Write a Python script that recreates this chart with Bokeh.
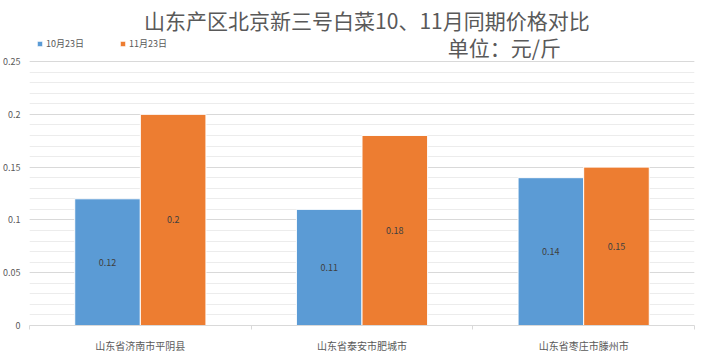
from bokeh.plotting import figure
from bokeh.models import ColumnDataSource, FixedTicker, Legend, LegendItem, Label
from bokeh.embed import file_html
from bokeh.resources import INLINE
from bokeh.core.properties import value

# ---- data ----
categories = ["山东省济南市平阴县", "山东省泰安市肥城市", "山东省枣庄市滕州市"]
series_names = ["10月23日", "11月23日"]
oct_values = [0.12, 0.11, 0.14]
nov_values = [0.2, 0.18, 0.15]
y_ticks = [0, 0.05, 0.1, 0.15, 0.2, 0.25]
y_tick_labels = ["0", "0.05", "0.1", "0.15", "0.2", "0.25"]
title_text = "山东产区北京新三号白菜10、11月同期价格对比"
unit_text = "单位：元/斤"

BLUE = "#5b9bd5"
ORANGE = "#ed7d31"
GREY = "#595959"
FONT = "Noto Sans CJK SC"

n = len(categories)
centers = [i + 0.5 for i in range(n)]
off = 0.148
bw = 0.296
y_top = 0.3078  # headroom above the axis maximum for title / legend

src_oct = ColumnDataSource(dict(
    x=[c - off for c in centers], top=oct_values,
    ymid=[v / 2 for v in oct_values], lab=[f"{v:g}" for v in oct_values]))
src_nov = ColumnDataSource(dict(
    x=[c + off for c in centers], top=nov_values,
    ymid=[v / 2 for v in nov_values], lab=[f"{v:g}" for v in nov_values]))

p = figure(width=704, height=355, output_backend="svg", toolbar_location=None,
           x_range=(0, n), y_range=(0, y_top),
           min_border_left=19, min_border_right=10, min_border_top=0, min_border_bottom=27)
p.outline_line_color = None
p.background_fill_color = "white"
p.border_fill_color = "white"

r1 = p.vbar(x="x", top="top", width=bw, source=src_oct, fill_color=BLUE, line_color="white", line_width=1)
r2 = p.vbar(x="x", top="top", width=bw, source=src_nov, fill_color=ORANGE, line_color="white", line_width=1)

for src in (src_oct, src_nov):
    p.text(x="x", y="ymid", text="lab", source=src, text_align="center", text_baseline="middle",
           text_font=value(FONT), text_font_size="9px", text_color="#404040")

# axes
p.yaxis.ticker = FixedTicker(ticks=y_ticks, minor_ticks=[i / 100 for i in range(0, 26)])
p.yaxis.major_label_overrides = {t: l for t, l in zip(y_ticks, y_tick_labels)}
p.yaxis.axis_line_color = None
p.yaxis.major_tick_line_color = None
p.yaxis.minor_tick_line_color = None
p.yaxis.major_label_text_font_size = "9px"
p.yaxis.major_label_text_color = GREY
p.yaxis.major_label_text_font = FONT
p.yaxis.major_label_standoff = 3

p.xaxis.ticker = FixedTicker(ticks=centers, minor_ticks=list(range(n + 1)))
p.xaxis.major_label_overrides = {c: l for c, l in zip(centers, categories)}
p.xaxis.axis_line_color = "#d9d9d9"
p.xaxis.major_tick_line_color = None
p.xaxis.minor_tick_line_color = "#d9d9d9"
p.xaxis.minor_tick_in = 0
p.xaxis.minor_tick_out = 4
p.xaxis.major_label_text_font_size = "10px"
p.xaxis.major_label_text_color = GREY
p.xaxis.major_label_text_font = FONT
p.xaxis.major_label_standoff = 6

p.xgrid.grid_line_color = None
p.ygrid.grid_line_color = "#d9d9d9"
p.ygrid.minor_grid_line_color = "#ececec"

# title and unit
p.add_layout(Label(x=1.522, y=0.2898, text=title_text, text_align="center", text_baseline="middle",
                   text_font=FONT, text_font_size="21px", text_color=GREY))
p.add_layout(Label(x=1.887, y=0.2642, text=unit_text, text_align="left", text_baseline="middle",
                   text_font=FONT, text_font_size="21px", text_color=GREY))

legend = Legend(items=[LegendItem(label=series_names[0], renderers=[r1]),
                       LegendItem(label=series_names[1], renderers=[r2])],
                orientation="horizontal", location=(7, 275),
                label_text_font=FONT, label_text_font_size="9px", label_text_color=GREY,
                glyph_width=7, glyph_height=7, spacing=35, label_standoff=3,
                border_line_color=None, background_fill_alpha=0, padding=2, margin=0)
p.add_layout(legend, "center")

open("out.html", "w").write(file_html(p, INLINE))
